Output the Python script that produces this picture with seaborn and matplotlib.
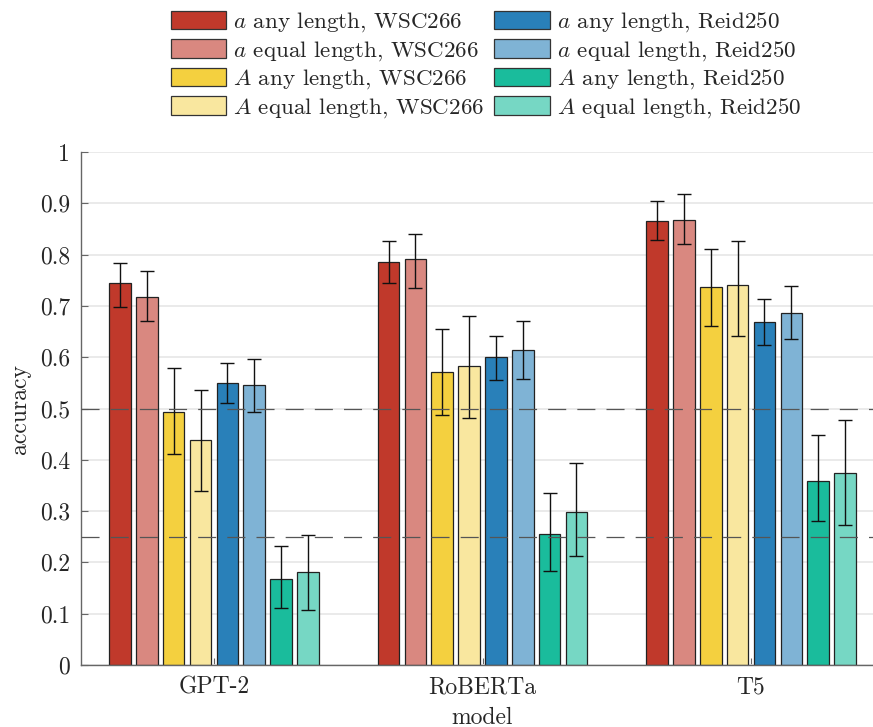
import matplotlib
matplotlib.use("Agg")
import matplotlib.pyplot as plt
import seaborn as sns
import pandas as pd
import numpy as np

# ---------------- data ----------------
models = ["GPT-2", "RoBERTa", "T5"]
conditions = [
    r"$a$ any length, WSC266",
    r"$a$ equal length, WSC266",
    r"$A$ any length, WSC266",
    r"$A$ equal length, WSC266",
    r"$a$ any length, Reid250",
    r"$a$ equal length, Reid250",
    r"$A$ any length, Reid250",
    r"$A$ equal length, Reid250",
]
colors = ["#C0392B", "#D98880", "#F4D03F", "#F9E79F",
          "#2980B9", "#7FB3D5", "#1ABC9C", "#76D7C4"]

a_any_wsc = [0.744, 0.785, 0.866]
a_eq_wsc = [0.718, 0.791, 0.868]
A_any_wsc = [0.494, 0.571, 0.736]
A_eq_wsc = [0.439, 0.582, 0.740]
a_any_reid = [0.550, 0.600, 0.668]
a_eq_reid = [0.546, 0.615, 0.687]
A_any_reid = [0.168, 0.255, 0.359]
A_eq_reid = [0.181, 0.298, 0.374]

a_any_wsc_lo = [0.698, 0.744, 0.828]
a_eq_wsc_lo = [0.670, 0.734, 0.820]
A_any_wsc_lo = [0.412, 0.487, 0.661]
A_eq_wsc_lo = [0.340, 0.481, 0.641]
a_any_reid_lo = [0.511, 0.556, 0.623]
a_eq_reid_lo = [0.494, 0.558, 0.635]
A_any_reid_lo = [0.112, 0.183, 0.280]
A_eq_reid_lo = [0.107, 0.213, 0.272]

a_any_wsc_hi = [0.783, 0.826, 0.904]
a_eq_wsc_hi = [0.769, 0.840, 0.919]
A_any_wsc_hi = [0.578, 0.654, 0.810]
A_eq_wsc_hi = [0.537, 0.680, 0.826]
a_any_reid_hi = [0.589, 0.642, 0.714]
a_eq_reid_hi = [0.596, 0.670, 0.738]
A_any_reid_hi = [0.231, 0.335, 0.448]
A_eq_reid_hi = [0.254, 0.393, 0.477]

ytick_vals = [0, 0.1, 0.2, 0.3, 0.4, 0.5, 0.6, 0.7, 0.8, 0.9, 1]
ytick_labels = ["0", "0.1", "0.2", "0.3", "0.4", "0.5", "0.6", "0.7", "0.8", "0.9", "1"]
chance_levels = [0.25, 0.5]

values = [a_any_wsc, a_eq_wsc, A_any_wsc, A_eq_wsc,
          a_any_reid, a_eq_reid, A_any_reid, A_eq_reid]
lows = [a_any_wsc_lo, a_eq_wsc_lo, A_any_wsc_lo, A_eq_wsc_lo,
        a_any_reid_lo, a_eq_reid_lo, A_any_reid_lo, A_eq_reid_lo]
highs = [a_any_wsc_hi, a_eq_wsc_hi, A_any_wsc_hi, A_eq_wsc_hi,
         a_any_reid_hi, a_eq_reid_hi, A_any_reid_hi, A_eq_reid_hi]

rows = []
for cond, vals, lo, hi in zip(conditions, values, lows, highs):
    for m, v, l, h in zip(models, vals, lo, hi):
        rows.append({"model": m, "condition": cond, "accuracy": v, "lo": l, "hi": h})
df = pd.DataFrame(rows)

# ---------------- style ----------------
sns.set_theme(style="white")
plt.rcParams["font.family"] = ["serif"]
plt.rcParams["font.serif"] = ["cmr10", "DejaVu Serif"]
plt.rcParams["mathtext.fontset"] = "cm"
plt.rcParams["axes.unicode_minus"] = False
plt.rcParams["axes.formatter.use_mathtext"] = True
plt.rcParams["lines.scale_dashes"] = False

fig = plt.figure(figsize=(8.73, 7.27), dpi=100)
ax = fig.add_axes([81 / 873, 62 / 727, 803 / 873, 513 / 727])

sns.barplot(data=df, x="model", y="accuracy", hue="condition",
            hue_order=conditions, order=models, palette=colors,
            saturation=1, width=0.8, gap=0.2, edgecolor="#222222",
            linewidth=0.9, errorbar=None, ax=ax, zorder=2)

# error bars from bar positions
for cont, cond in zip(ax.containers, conditions):
    sub = df[df["condition"] == cond].set_index("model").loc[models]
    xs = [b.get_x() + b.get_width() / 2 for b in cont]
    ys = sub["accuracy"].to_numpy()
    yerr = np.vstack([ys - sub["lo"].to_numpy(), sub["hi"].to_numpy() - ys])
    ax.errorbar(xs, ys, yerr=yerr, fmt="none", ecolor="#111111",
                elinewidth=1.0, capsize=4.7, capthick=1.0, zorder=3)

for lvl in chance_levels:
    ax.axhline(lvl, color="#555555", lw=0.9, ls=(0, (13, 8)), zorder=4)

ax.set_xlim(-0.495, 2.495)
ax.set_ylim(0, 1)
ax.set_yticks(ytick_vals, ytick_labels)
ax.yaxis.grid(True, color="#e6e6e6", lw=1.2, zorder=0)
ax.set_axisbelow(True)

for s in ["top", "right"]:
    ax.spines[s].set_visible(False)
for s in ["left", "bottom"]:
    ax.spines[s].set_color("#666666")
    ax.spines[s].set_linewidth(1.0)

ax.tick_params(axis="both", direction="in", length=5, width=0.8,
               color="#666666", labelsize=17, pad=8, left=True, bottom=True)
ax.set_xlabel("model", fontsize=17, labelpad=6)
ax.set_ylabel("accuracy", fontsize=17, labelpad=6)

handles, labels = ax.get_legend_handles_labels()
ax.get_legend().remove()
leg = fig.legend(handles, labels, loc="upper center",
                 bbox_to_anchor=(486 / 873, 1.0), ncol=2, frameon=False,
                 fontsize=16.6, handlelength=2.4, handleheight=0.85,
                 handletextpad=0.3, columnspacing=0.45, labelspacing=0.21,
                 borderaxespad=0.2, borderpad=0.25)
for h in leg.legend_handles:
    h.set_edgecolor("#333333")
    h.set_linewidth(0.9)

fig.savefig("out.png", dpi=100)
